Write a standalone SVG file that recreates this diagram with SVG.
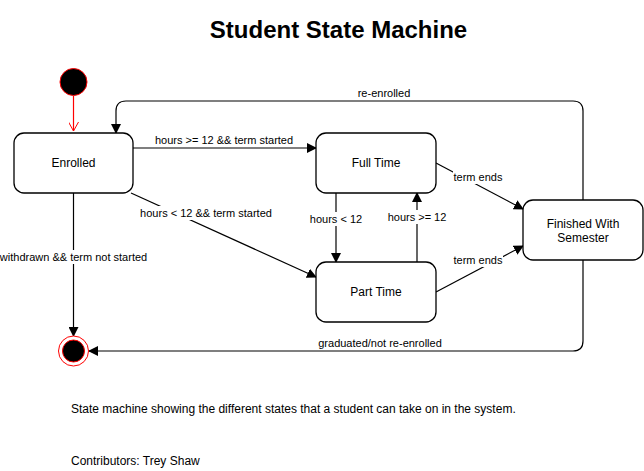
<svg xmlns="http://www.w3.org/2000/svg" width="644" height="471" viewBox="0 0 644 471">
<defs>
<style>
.node{fill:#fff;stroke:#000;stroke-width:1.3}
.edge{fill:none;stroke:#000;stroke-width:1.2}
.lbl{font-family:"Liberation Sans",Arial,sans-serif;font-size:11px;fill:#000;text-anchor:middle}
.ntxt{font-family:"Liberation Sans",Arial,sans-serif;font-size:12px;fill:#000;text-anchor:middle}
.txt{font-family:"Liberation Sans",Arial,sans-serif;font-size:12px;fill:#000}
.bg{fill:#fff}
</style>
<marker id="arr" viewBox="0 0 10 10" refX="9" refY="5" markerWidth="10" markerHeight="10" markerUnits="userSpaceOnUse" orient="auto">
<path d="M0,0 L10,5 L0,10 Z" fill="#000"/>
</marker>
<marker id="open" viewBox="0 0 10 10" refX="9" refY="5" markerWidth="10" markerHeight="10" markerUnits="userSpaceOnUse" orient="auto">
<path d="M0,0 L9,5 L0,10" fill="none" stroke="#ff0000" stroke-width="1"/>
</marker>
</defs>
<rect width="644" height="471" fill="#fff"/>
<text x="338.5" y="38" font-family="Liberation Sans,Arial,sans-serif" font-size="24" font-weight="bold" text-anchor="middle">Student State Machine</text>

<g id="connectors">
<path class="edge" d="M73.5,96 V131" style="stroke:#ff0000" marker-end="url(#open)"/>
<path class="edge" d="M583,200 V111 Q583,101 573,101 H126 Q116,101 116,111 V133" marker-end="url(#arr)"/>
<path class="edge" d="M133,148 H316" marker-end="url(#arr)"/>
<path class="edge" d="M131,193 L316,277" marker-end="url(#arr)"/>
<path class="edge" d="M73.5,193 V336" marker-end="url(#arr)"/>
<path class="edge" d="M336,193 V262" marker-end="url(#arr)"/>
<path class="edge" d="M417,262 V193" marker-end="url(#arr)"/>
<path class="edge" d="M436,163 L523,209" marker-end="url(#arr)"/>
<path class="edge" d="M436,292 L523,246" marker-end="url(#arr)"/>
<path class="edge" d="M583,260 V341 Q583,351 573,351 H89" marker-end="url(#arr)"/>

<text class="lbl" x="384" y="97">re-enrolled</text>
<text class="lbl" x="224" y="144">hours &gt;= 12 &amp;&amp; term started</text>
<rect class="bg" x="139" y="206" width="134" height="14"/>
<text class="lbl" x="206" y="217">hours &lt; 12 &amp;&amp; term started</text>
<rect class="bg" x="1" y="250" width="146" height="14"/>
<text class="lbl" x="73.5" y="261">withdrawn &amp;&amp; term not started</text>
<rect class="bg" x="309" y="212" width="54" height="14"/>
<text class="lbl" x="336" y="223">hours &lt; 12</text>
<rect class="bg" x="387" y="210" width="60" height="14"/>
<text class="lbl" x="417" y="221">hours &gt;= 12</text>
<rect class="bg" x="453" y="170" width="50" height="14"/>
<text class="lbl" x="478" y="181">term ends</text>
<rect class="bg" x="453" y="253" width="50" height="14"/>
<text class="lbl" x="478" y="264">term ends</text>
<text class="lbl" x="380" y="347">graduated/not re-enrolled</text>
</g>

<g id="start">
<circle cx="73.5" cy="82" r="13.5" fill="#000" stroke="#ff0000" stroke-width="1"/>
</g>
<g id="enrolled">
<rect class="node" x="14" y="133" width="119" height="60" rx="10"/>
<text class="ntxt" x="73.5" y="167">Enrolled</text>
</g>
<g id="fulltime">
<rect class="node" x="316" y="133" width="120" height="60" rx="10"/>
<text class="ntxt" x="376" y="167">Full Time</text>
</g>
<g id="parttime">
<rect class="node" x="316" y="262" width="120" height="60" rx="10"/>
<text class="ntxt" x="376" y="296">Part Time</text>
</g>
<g id="finished">
<rect class="node" x="523" y="200" width="120" height="60" rx="10"/>
<text class="ntxt" x="583" y="228">Finished With</text>
<text class="ntxt" x="583" y="242">Semester</text>
</g>
<g id="end">
<circle cx="73.5" cy="351" r="15" fill="#fff" stroke="#ff0000" stroke-width="1"/>
<circle cx="73.5" cy="351" r="11" fill="#000" stroke="#ff0000" stroke-width="1"/>
</g>

<text class="txt" x="71" y="413">State machine showing the different states that a student can take on in the system.</text>
<text class="txt" x="71" y="465">Contributors: Trey Shaw</text>
</svg>
